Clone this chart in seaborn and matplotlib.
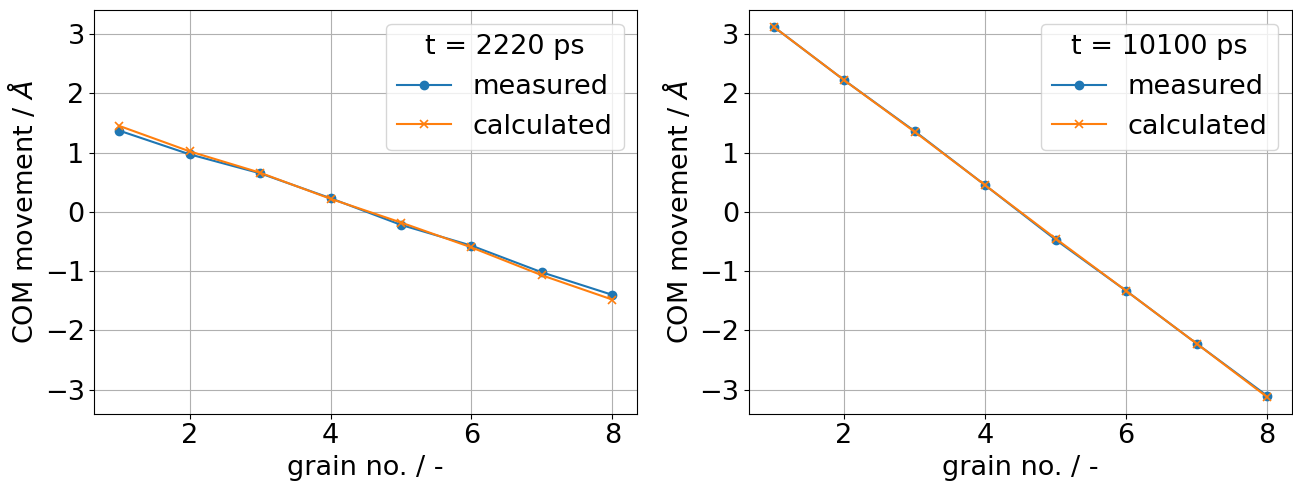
import matplotlib
matplotlib.use("Agg")
import matplotlib.pyplot as plt
import seaborn as sns
import pandas as pd
import numpy as np

grain = [1, 2, 3, 4, 5, 6, 7, 8]
meas_2220 = [1.37, 0.97, 0.65, 0.23, -0.22, -0.57, -1.02, -1.40]
calc_2220 = [1.45, 1.02, 0.66, 0.22, -0.18, -0.60, -1.07, -1.48]
meas_10100 = [3.12, 2.22, 1.36, 0.45, -0.47, -1.33, -2.22, -3.10]
calc_10100 = [3.12, 2.22, 1.35, 0.45, -0.45, -1.33, -2.22, -3.12]
titles = ["t = 2220 ps", "t = 10100 ps"]

plt.rcParams['font.size'] = 19.5
fig, axes = plt.subplots(1, 2, figsize=(12.93, 4.82), dpi=100)
for ax, m, c, t in zip(axes, [meas_2220, meas_10100], [calc_2220, calc_10100], titles):
    sns.lineplot(x=grain, y=m, ax=ax, marker='o', markersize=6, markeredgewidth=1,
                 markeredgecolor='#1f77b4', color='#1f77b4', label='measured')
    sns.lineplot(x=grain, y=c, ax=ax, marker='x', markersize=6, markeredgewidth=1.2,
                 markeredgecolor='#ff7f0e', color='#ff7f0e', label='calculated')
    ax.set_ylim(-3.4, 3.4)
    ax.set_xlabel('grain no. / -')
    ax.set_ylabel(r'COM movement / $\AA$')
    ax.grid(True)
    ax.tick_params(labelsize=19.5)
    ax.legend(title=t, loc='upper right', fontsize=19.5, title_fontsize=19.5)
fig.subplots_adjust(left=0.073, right=0.999, top=0.979, bottom=0.142, wspace=0.206)
fig.savefig('out.png', dpi=100)
